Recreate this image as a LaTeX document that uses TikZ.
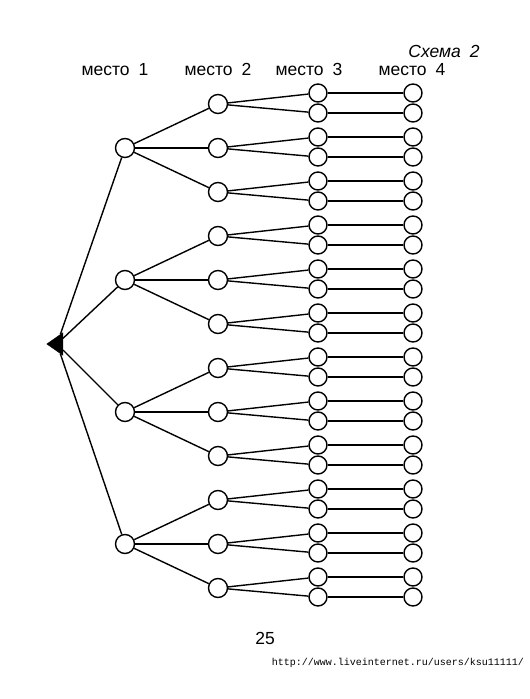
\documentclass[tikz,border=0pt]{standalone}
\usepackage{fontspec}
\setmainfont{Liberation Sans}
\setmonofont{Liberation Mono}
\usetikzlibrary{shapes.geometric}
\begin{document}
\begin{tikzpicture}[x=1pt,y=-1pt,
  dot/.style={circle,draw,line width=1.4pt,minimum size=19pt,inner sep=0pt,fill=white},
  edge/.style={line width=1.4pt},
  lbl/.style={font=\fontsize{17.5}{20}\selectfont,inner sep=0pt,anchor=base},
  rootmark/.style={isosceles triangle,shape border rotate=180,fill=black,draw=black,
    minimum height=16pt,minimum width=22pt,inner sep=0pt,isosceles triangle apex angle=70}]
\useasboundingbox[fill=white] (0,0) rectangle (530,699);
% labels
\node[lbl] (h1) at (115,75) {место\hspace{9pt}1};
\node[lbl] (h2) at (218,75) {место\hspace{9pt}2};
\node[lbl] (h3) at (309,75) {место\hspace{9pt}3};
\node[lbl] (h4) at (412,75) {место\hspace{9pt}4};
\node[lbl,font=\fontsize{17.5}{20}\selectfont\itshape] (sch) at (444,57) {Схема\hspace{9pt}2};
\node[lbl] (page) at (265,644) {25};
\node[inner sep=0pt,anchor=east,font=\ttfamily\fontsize{10}{12}\selectfont] (url) at (524,663) {http://www.liveinternet.ru/users/ksu11111/};
% root
\node[rootmark] (root) at (57,344) {};
% tree
\foreach \i in {0,...,3}{
  \pgfmathsetmacro{\yA}{148+132*\i}
  \node[dot] (a\i) at (125,\yA) {};
  \draw[edge] (root) -- (a\i);
  \foreach \k in {0,1,2}{
    \pgfmathsetmacro{\yB}{104+44*(3*\i+\k)}
    \node[dot] (b\i\k) at (218,\yB) {};
    \draw[edge] (a\i) -- (b\i\k);
    \foreach \m/\d in {0/-10,1/10}{
      \pgfmathsetmacro{\yC}{\yB+\d-1}
      \node[dot,minimum size=18pt] (c\i\k\m) at (318,\yC) {};
      \node[dot,minimum size=18pt] (d\i\k\m) at (413,\yC) {};
      \draw[edge] (b\i\k) -- (c\i\k\m);
      \draw[edge] (c\i\k\m) -- (d\i\k\m);
    }
  }
}
\end{tikzpicture}
\end{document}
